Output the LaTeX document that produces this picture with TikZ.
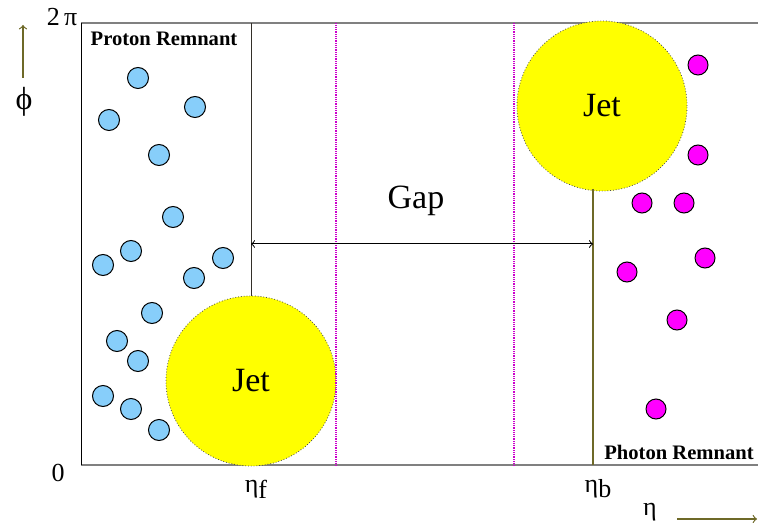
\documentclass[tikz,border=0pt]{standalone}
\usepackage{fontspec}
\setmainfont{Liberation Serif}
\usepackage{tikz}
\usetikzlibrary{positioning}

\definecolor{protonblue}{RGB}{135,206,250}
\definecolor{photonpink}{RGB}{255,0,255}
\definecolor{jetyellow}{RGB}{255,255,0}
\definecolor{axisolive}{RGB}{110,105,40}

\begin{document}
\begin{tikzpicture}[
	x=0.5pt, y=-0.5pt,
	proton/.style={draw, circle, fill=protonblue, minimum size=10.5pt, inner sep=0pt, line width=0.5pt},
	photon/.style={draw, circle, fill=photonpink, minimum size=10pt, inner sep=0pt, line width=0.5pt},
	jet/.style={draw=black!70, densely dotted, circle, fill=jetyellow, minimum size=85pt, inner sep=0pt, line width=0.4pt, font=\fontsize{17}{20}\selectfont},
	remnant/.style={font=\fontsize{10.3}{12}\selectfont\bfseries},
	axislabel/.style={font=\fontsize{13}{15}\selectfont},
	frame/.style={draw=black!50, line width=1pt},
	cut/.style={draw=photonpink!80!black, dash pattern=on 0.5pt off 0.4pt, line width=0.6pt},
	]
	\useasboundingbox (0,0) rectangle (758,523);
	
	%% ── frame ──────────────────────────────────────────────────────────────
	\coordinate (tl) at (81,23.5);
	\coordinate (tr) at (758,23.5);
	\coordinate (bl) at (81,465);
	\coordinate (br) at (758,465);
	\draw[frame] (tl) -- (tr);
	\draw[frame] (bl) -- (br);
	\draw[line width=0.5pt] (tl) -- (bl);
	
	%% ── jets and eta lines ─────────────────────────────────────────────────
	\node[jet] (jetf) at (251,381) {Jet};
	\node[jet] (jetb) at (602,106) {Jet};
	
	\coordinate (ftop) at (251,23.5);
	\coordinate (btop) at (593,189);
	\coordinate (bbot) at (593,465);
	\draw[line width=0.5pt, black!85!olive] (jetf.north) -- (ftop);
	\draw[line width=0.7pt, axisolive] (btop) -- (bbot);
	
	\coordinate (c1t) at (336,23.5);
	\coordinate (c1b) at (336,465);
	\coordinate (c2t) at (514,23.5);
	\coordinate (c2b) at (514,465);
	\draw[cut] (c1t) -- (c1b);
	\draw[cut] (c2t) -- (c2b);
	
	%% ── gap ────────────────────────────────────────────────────────────────
	\coordinate (gl) at (251,244);
	\coordinate (gr) at (593,244);
	\draw[<->, line width=0.5pt] (gl) -- (gr);
	\node[font=\fontsize{17}{20}\selectfont] (gap) at (416,201) {Gap};
	
	%% ── proton remnant ─────────────────────────────────────────────────────
	\node[remnant] (prlabel) at (164,39) {Proton Remnant};
	\node[proton] (p1)  at (138,78)  {};
	\node[proton] (p2)  at (195,107) {};
	\node[proton] (p3)  at (109,120) {};
	\node[proton] (p4)  at (159,155) {};
	\node[proton] (p5)  at (173,217) {};
	\node[proton] (p6)  at (131,251) {};
	\node[proton] (p7)  at (103,265) {};
	\node[proton] (p8)  at (223,258) {};
	\node[proton] (p9)  at (194,278) {};
	\node[proton] (p10) at (152,313) {};
	\node[proton] (p11) at (117,341) {};
	\node[proton] (p12) at (138,361) {};
	\node[proton] (p13) at (103,396) {};
	\node[proton] (p14) at (131,409) {};
	\node[proton] (p15) at (159,430) {};
	
	%% ── photon remnant ─────────────────────────────────────────────────────
	\node[remnant] (phlabel) at (679,452) {Photon Remnant};
	\node[photon] (g1) at (698,65)  {};
	\node[photon] (g2) at (698,155) {};
	\node[photon] (g3) at (642,203) {};
	\node[photon] (g4) at (684,203) {};
	\node[photon] (g5) at (705,258) {};
	\node[photon] (g6) at (627,272) {};
	\node[photon] (g7) at (677,320) {};
	\node[photon] (g8) at (656,409) {};
	
	%% ── axes ───────────────────────────────────────────────────────────────
	\node[axislabel] (twopi) at (62,17) {2\,π};
	\node[axislabel] (zero)  at (58,473) {0};
	\node[axislabel, font=\fontsize{16}{18}\selectfont] (phi) at (24,102) {ϕ};
	\coordinate (phis) at (23,78);
	\coordinate (phie) at (23,25);
	\draw[->, axisolive, line width=0.6pt] (phis) -- (phie);
	
	\node[axislabel] (etaf) at (256,489) {η\raisebox{-0.45ex}{f}};
	\node[axislabel] (etab) at (598,489) {η\raisebox{-0.45ex}{b}};
	\node[axislabel] (eta)  at (650,512) {η};
	\coordinate (etas) at (677,519);
	\coordinate (etae) at (757,519);
	\draw[->, axisolive, line width=0.6pt] (etas) -- (etae);
	
\end{tikzpicture}
\end{document}
